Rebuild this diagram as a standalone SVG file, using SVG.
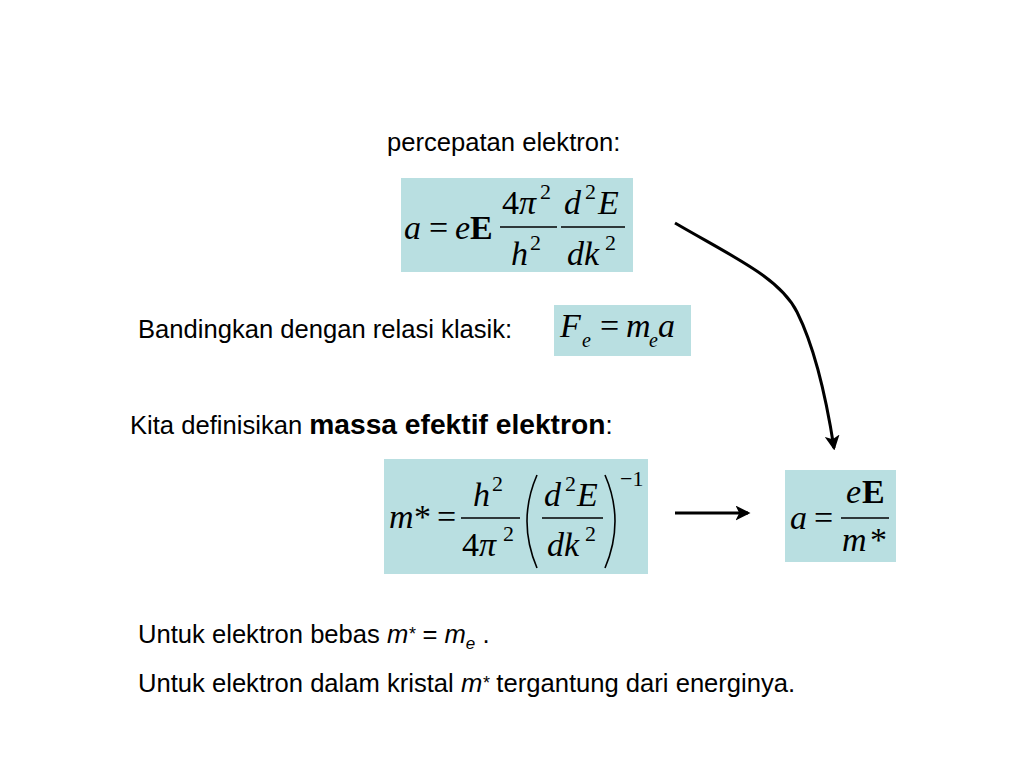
<svg xmlns="http://www.w3.org/2000/svg" width="1024" height="768" viewBox="0 0 1024 768">
<defs>
<style>
.t{font-family:"Liberation Sans",Arial,sans-serif;font-size:25.6px;fill:#000}
.m{font-family:"Liberation Serif","Times New Roman",serif;font-size:34px;fill:#000}
.i{font-style:italic}
.b{font-weight:bold}
.s{font-size:22px}
.box{fill:#b9dfe1}
.fl{stroke:#000;stroke-width:1.6}
.ar{fill:none;stroke:#000;stroke-width:3}
</style>
<marker id="ah" viewBox="0 0 12 12" refX="10" refY="6" markerWidth="5" markerHeight="5" orient="auto" markerUnits="strokeWidth">
<path d="M0,0 L12,6 L0,12 L3,6 Z" fill="#000"/>
</marker>
</defs>
<rect width="1024" height="768" fill="#fff"/>

<g id="label-percepatan"><text class="t" x="387" y="151">percepatan elektron:</text></g>

<g id="eq1">
<rect class="box" x="401" y="178" width="232" height="94"/>
<text class="m i" x="404" y="239">a</text>
<text class="m" x="429" y="239">=</text>
<text class="m i" x="455" y="239">e</text>
<text class="m b" x="470" y="239">E</text>
<line class="fl" x1="500" y1="227" x2="557" y2="227"/>
<text class="m" x="502" y="214">4<tspan class="i">π</tspan></text>
<text class="m s" x="540" y="199">2</text>
<text class="m i" x="511" y="265">h</text>
<text class="m s" x="530" y="250">2</text>
<line class="fl" x1="561" y1="227" x2="625" y2="227"/>
<text class="m i" x="564" y="214">d</text>
<text class="m s" x="585" y="199">2</text>
<text class="m i" x="598" y="214">E</text>
<text class="m i" x="567" y="265">dk</text>
<text class="m s" x="605" y="250">2</text>
</g>

<g id="label-bandingkan"><text class="t" x="138" y="338">Bandingkan dengan relasi klasik:</text></g>

<g id="eq2">
<rect class="box" x="554" y="305" width="137" height="51"/>
<text class="m i" x="560" y="337">F</text>
<text class="m i" x="582" y="347" style="font-size:20px">e</text>
<text class="m" x="600" y="337">=</text>
<text class="m i" x="626" y="337">m</text>
<text class="m i" x="649" y="347" style="font-size:20px">e</text>
<text class="m i" x="658" y="337">a</text>
</g>

<g id="label-kita"><text class="t" x="130" y="434">Kita definisikan <tspan class="b" style="font-size:28.2px">massa efektif elektron</tspan>:</text></g>

<g id="eq3">
<rect class="box" x="384" y="459" width="264" height="115"/>
<text class="m i" x="389" y="528">m</text>
<text class="m" x="414" y="528">*</text>
<text class="m" x="437" y="528">=</text>
<line class="fl" x1="461" y1="518" x2="520" y2="518"/>
<text class="m i" x="473" y="506">h</text>
<text class="m s" x="492" y="491">2</text>
<text class="m" x="462" y="556">4<tspan class="i">π</tspan></text>
<text class="m s" x="503" y="541">2</text>
<path d="M537,475 Q517,521 537,568" fill="none" stroke="#000" stroke-width="1.6"/>
<line class="fl" x1="542" y1="518" x2="603" y2="518"/>
<text class="m i" x="544" y="506">d</text>
<text class="m s" x="565" y="491">2</text>
<text class="m i" x="577" y="506">E</text>
<text class="m i" x="547" y="556">dk</text>
<text class="m s" x="585" y="541">2</text>
<path d="M605,475 Q625,521 605,568" fill="none" stroke="#000" stroke-width="1.6"/>
<text class="m s" x="620" y="486">−1</text>
</g>

<g id="eq4">
<rect class="box" x="785" y="470" width="111" height="92"/>
<text class="m i" x="790" y="529">a</text>
<text class="m" x="814" y="529">=</text>
<line class="fl" x1="841" y1="518" x2="889" y2="518"/>
<text class="m i" x="846" y="503">e</text>
<text class="m b" x="862" y="503">E</text>
<text class="m i" x="842" y="551">m</text>
<text class="m" x="870" y="551">*</text>
</g>

<g id="connectors">
<path class="ar" d="M675,223 C735,258 780,278 797,312 C814,346 825,390 834,448" marker-end="url(#ah)"/>
<line class="ar" x1="675" y1="513" x2="748" y2="513" marker-end="url(#ah)"/>
</g>

<g id="notes">
<text class="t" x="138" y="643">Untuk elektron bebas <tspan class="i">m</tspan><tspan class="i" dy="-3" style="font-size:18px">*</tspan><tspan dy="3"> = </tspan><tspan class="i">m</tspan><tspan class="i" dy="6" style="font-size:17px">e</tspan><tspan dy="-6"> .</tspan></text>
<text class="t" x="138" y="692">Untuk elektron dalam kristal <tspan class="i">m</tspan><tspan class="i" dy="-3" style="font-size:18px">*</tspan><tspan dy="3"> tergantung dari energinya.</tspan></text>
</g>
</svg>
